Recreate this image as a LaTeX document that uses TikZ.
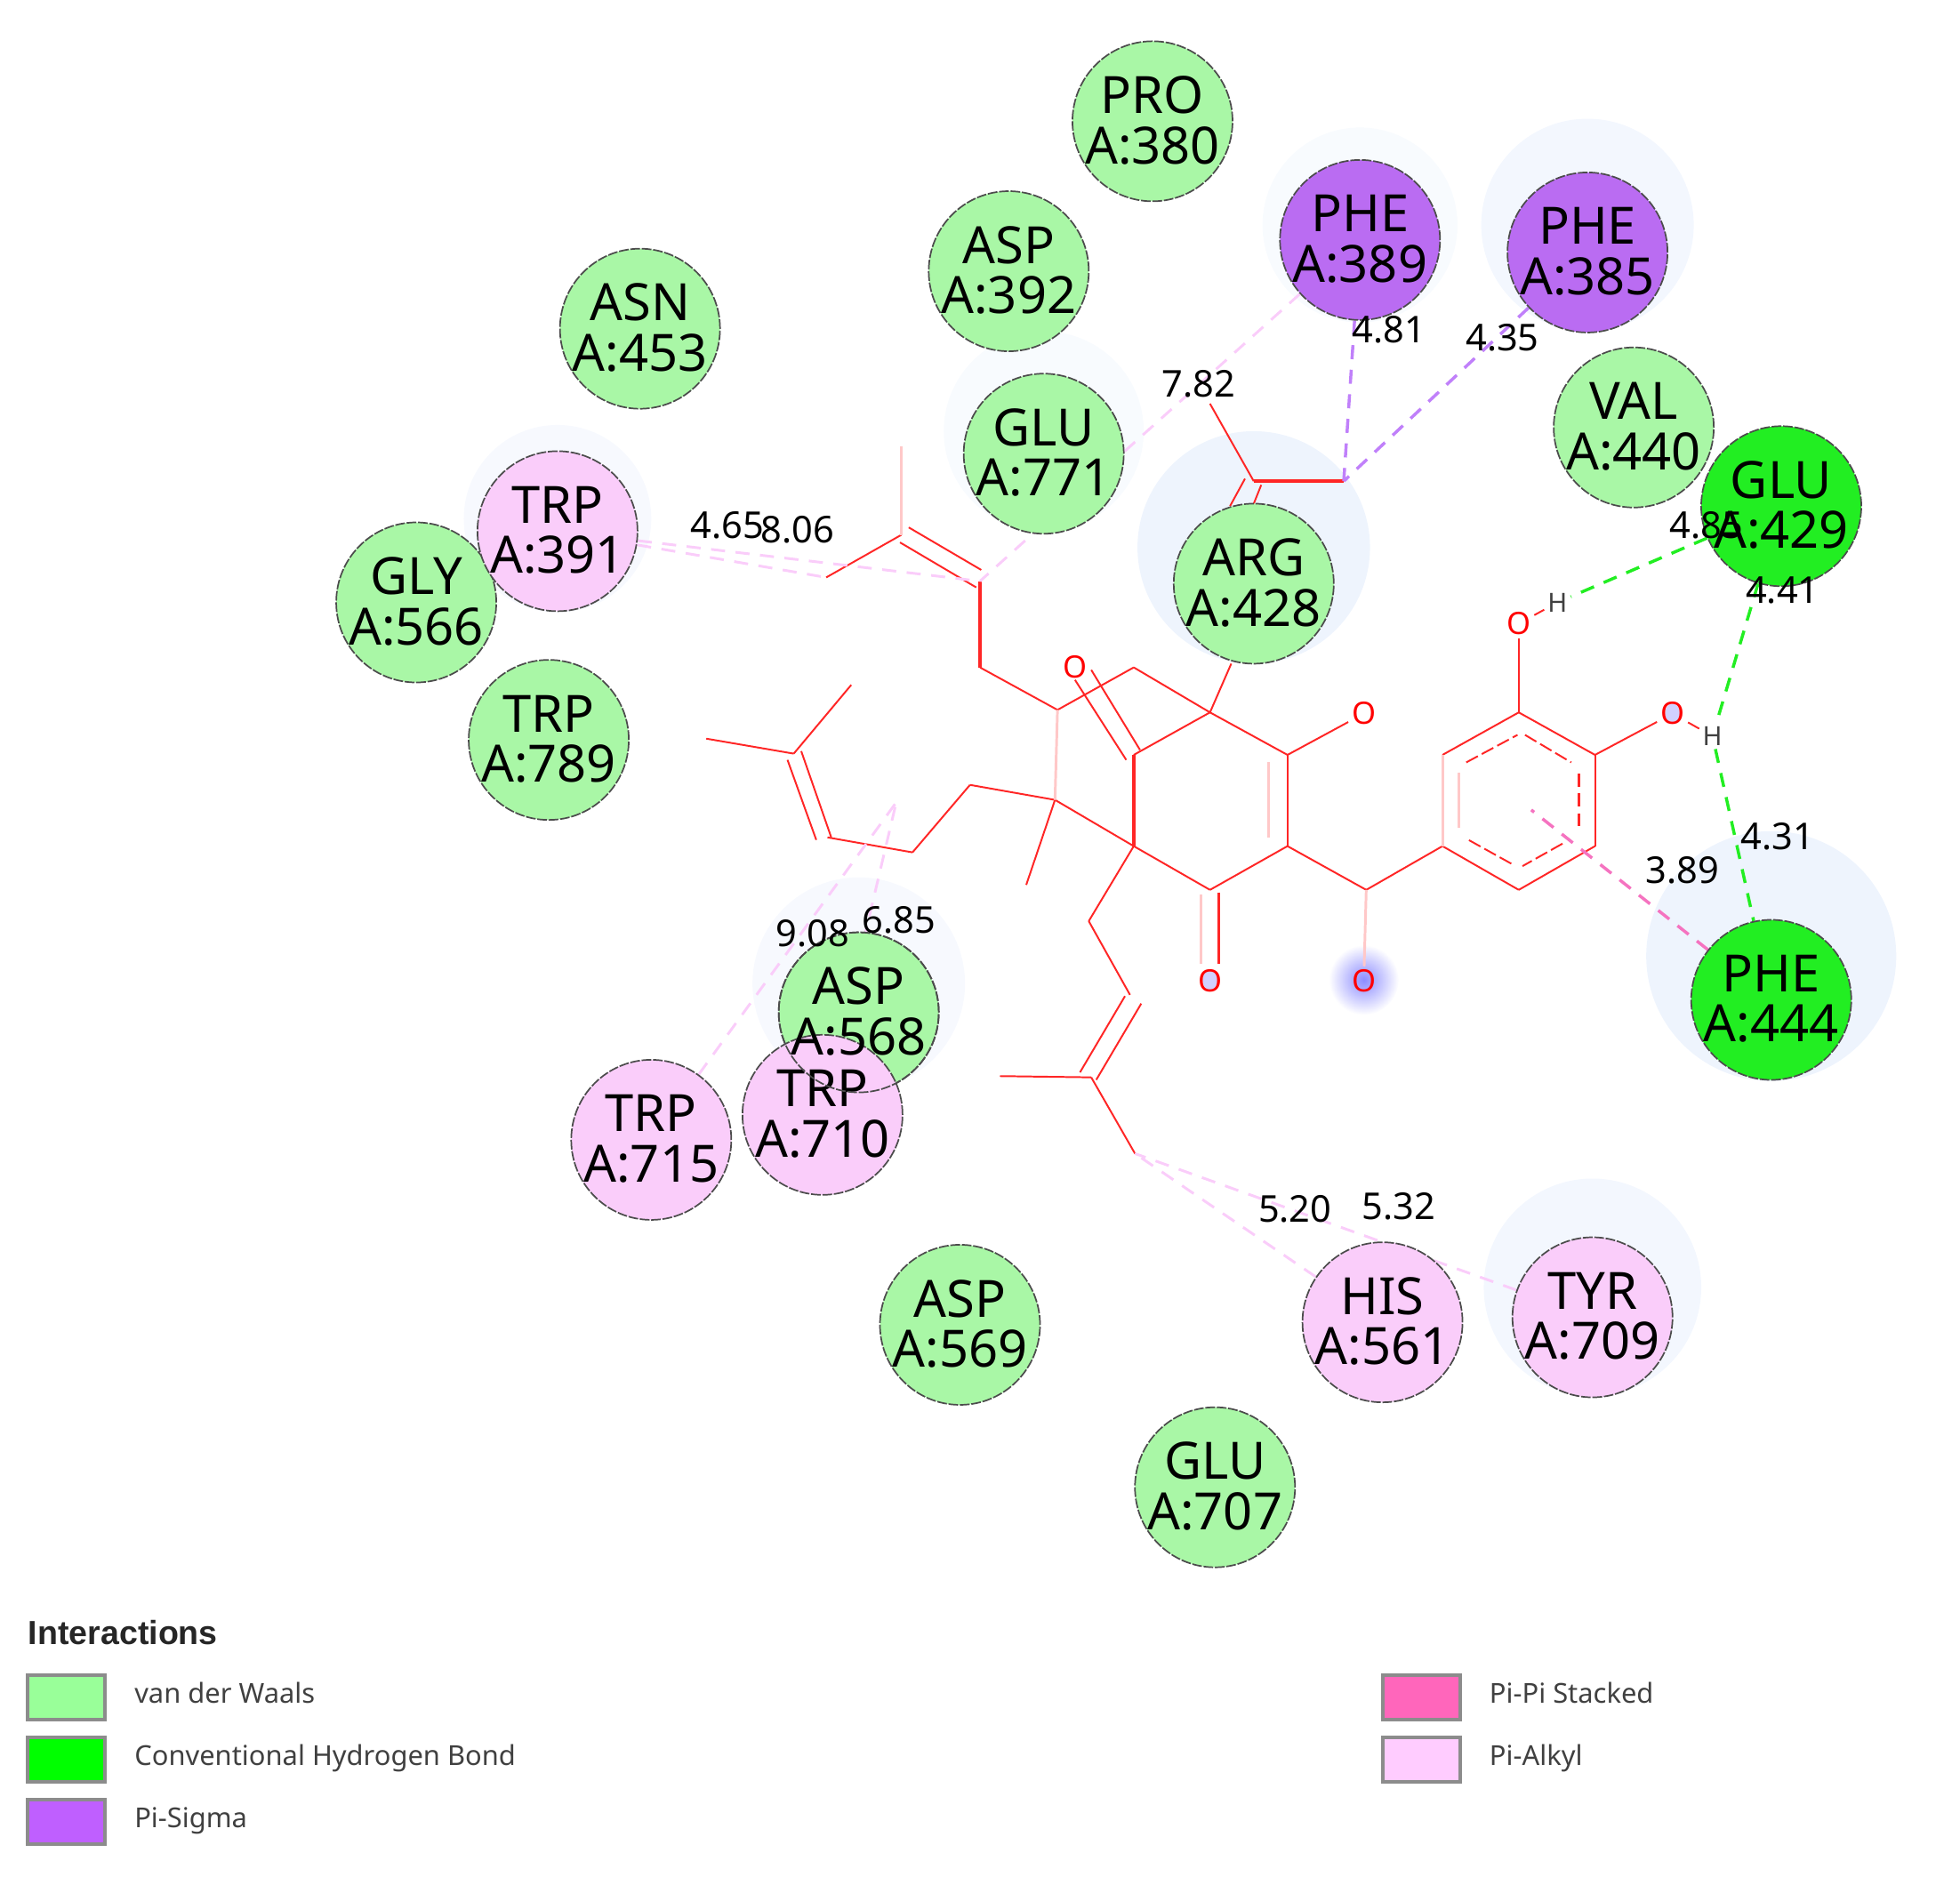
\documentclass[tikz,border=0pt]{standalone}
\usepackage{fontspec}
\setmainfont{Noto Sans}
\newfontfamily\legendbold{Liberation Sans}
\usetikzlibrary{positioning}
\pgfdeclarelayer{halo}
\pgfdeclarelayer{lines}
\pgfsetlayers{halo,lines,main}
\definecolor{haloblue}{HTML}{EEF4FD}
\definecolor{vdwgreen}{HTML}{A9F7A6}
\definecolor{hbgreen}{HTML}{22EE22}
\definecolor{sigmapurple}{HTML}{BA6CF2}
\definecolor{sigmaline}{HTML}{C080FA}
\definecolor{alkylpink}{HTML}{FACDFA}
\definecolor{faintred}{HTML}{FFC8C8}
\newcommand{\restext}[2]{\raisebox{0.6pt}{#1}\\\raisebox{0.6pt}{#2}}
\tikzset{
    resbase/.style={circle, minimum size=1.28cm, inner sep=-4pt, align=center, draw=black!70,
        line width=0.35pt, dash pattern=on 2.2pt off 0.4pt, text=black,
        font=\fontsize{11.7}{11.4}\selectfont},
    vdw/.style={resbase, fill=vdwgreen},
    hbond/.style={resbase, fill=hbgreen},
    sigma/.style={resbase, fill=sigmapurple},
    alkyl/.style={resbase, fill=alkylpink},
    bond/.style={red!85!white, line width=0.4pt},
    faintbond/.style={faintred, line width=0.6pt},
    hblink/.style={hbgreen, line width=0.7pt, dash pattern=on 3.2pt off 2.4pt},
    sigmalink/.style={sigmaline, line width=0.7pt, dash pattern=on 3.2pt off 2.4pt},
    stacklink/.style={magenta!55!white, line width=0.7pt, dash pattern=on 3.2pt off 2.4pt},
    alkyllink/.style={alkylpink, line width=0.6pt, dash pattern=on 3.2pt off 2.4pt},
    atomO/.style={inner sep=0.6pt, text=red, font=\fontsize{7}{7}\selectfont},
    atomH/.style={inner sep=0.6pt, text=black!75, font=\fontsize{6}{6}\selectfont},
    distlabel/.style={inner sep=0pt, text=black, font=\fontsize{8.4}{8.4}\selectfont},
    swatch/.style={draw=black!45, line width=0.8pt, minimum width=0.62cm, minimum height=0.355cm, inner sep=0pt},
    legendtext/.style={anchor=west, inner sep=0pt, text height=5pt, text depth=1.5pt, text=black!75, font=\fontsize{6.25}{7}\selectfont},
}

\begin{document}
\begin{tikzpicture}[x=0.01cm, y=-0.01cm]
    \useasboundingbox (0,0) rectangle (1568,1514);

    % halos
    \begin{pgfonlayer}{halo}
    \foreach \x/\y/\r/\p in
       {1088/180/78/40, 1270/180/85/70, 835/345/80/40, 1003/438/93/100,
        446/415/75/50, 687/787/85/50, 1417/765/100/100, 1274/1030/87/70}
    {
        \fill[haloblue!\p!white] (\x,\y) circle (\r);
    };
    \shade[inner color=blue!45!white, outer color=white, draw=none] (1091,784) circle (28);
    \fill[blue!18!white] (1338,571) ellipse (6 and 8);
    \fill[blue!18!white] (968,784) ellipse (6 and 8);
    \end{pgfonlayer}

    % residues
    \foreach \n/\x/\y/\s/\t/\u in
       {nPro380/922/97/vdw/PRO/380,
        nAsp392/807/217/vdw/ASP/392,
        nPhe389/1088/192/sigma/PHE/389,
        nPhe385/1270/202/sigma/PHE/385,
        nAsn453/512/263/vdw/ASN/453,
        nGlu771/835/363/vdw/GLU/771,
        nVal440/1307/342/vdw/VAL/440,
        nGlu429/1425/405/hbond/GLU/429,
        nArg428/1003/467/vdw/ARG/428,
        nGly566/333/482/vdw/GLY/566,
        nTrp391/446/425/alkyl/TRP/391,
        nTrp789/439/592/vdw/TRP/789,
        nTrp715/521/912/alkyl/TRP/715,
        nPhe444/1417/800/hbond/PHE/444,
        nHis561/1106/1058/alkyl/HIS/561,
        nTyr709/1274/1054/alkyl/TYR/709,
        nAsp569/768/1060/vdw/ASP/569,
        nGlu707/972/1190/vdw/GLU/707}
    {
        \node[\s] (\n) at (\x,\y) {\restext{\t}{A:\u}};
    };
    \node[vdw] (nAsp568) at (687,810) {};
    \node[alkyl] (nTrp710) at (658,892) {\restext{TRP}{A:710}};
    \node[vdw, fill=none] (nAsp568top) at (687,810) {\restext{ASP}{A:568}};

    % atoms of the ligand
    \foreach \n/\x/\y in
       {cR1/968/570, cR2/1030/604, cR3/1030/677, cR4/968/712, cR5/907/677, cR6/907/604,
        cB1/1154/677, cB2/1154/604, cB3/1215/570, cB4/1276/604, cB5/1276/677, cB6/1215/712,
        cKet/1093/712, cTop/907/534, cQ1/846/568, cQ2/844/640,
        cP1/784/534, cP2/784/465, cP3/721/428, cP4/721/357, cP5/661/462,
        cS1/776/628, cS2/730/682, cS3/662/670, cS4/635/603, cS5/565/591, cS6/681/548, cS7/821/708,
        cT1/871/737, cT2/904/796, cT3/873/862, cT4/800/861, cT5/908/923,
        cU1/1003/385, cU2/1075/385, cU3/968/323, cU4/985/531,
        cPiEnd/1225/648, cFarA/717/642}
    {
        \coordinate (\n) at (\x,\y);
    };
    \node[atomO] (nO1) at (860,534) {O};
    \node[atomO] (nO2) at (1091,571) {O};
    \node[atomO] (nO3) at (968,785) {O};
    \node[atomO] (nO4) at (1091,785) {O};
    \node[atomO] (nO5) at (1215,499) {O};
    \node[atomO] (nO6) at (1338,571) {O};
    \node[atomH] (nH1) at (1246,482) {H};
    \node[atomH] (nH2) at (1370,589) {H};

    % bonds
    \begin{pgfonlayer}{lines}
    \foreach \a/\b in
       {cR1/cR2, cR2/cR3, cR3/cR4, cR4/cR5, cR5/cR6, cR6/cR1, cR3/cKet, cKet/cB1,
        cB1/cB6, cB6/cB5, cB5/cB4, cB4/cB3, cB3/cB2, cR1/cTop, cTop/cQ1, cQ1/cP1, cP1/cP2,
        cP3/cP5, cQ2/cR5, cQ2/cS1, cS1/cS2, cS2/cS3, cS4/cS5, cS4/cS6, cQ2/cS7,
        cR5/cT1, cT1/cT2, cT3/cT4, cT3/cT5, cU1/cU2, cU1/cU3, cR1/cU4,
        cR2/nO2, cB3/nO5, cB4/nO6, nO5/nH1, nO6/nH2}
    {
        \draw[bond] (\a) -- (\b);
    };
    \foreach \a/\b in {cB1/cB2, cQ1/cQ2, cKet/nO4}
    {
        \draw[faintbond] (\a) -- (\b);
    };
    \draw[bond, line width=0.7pt] (cU1) -- (cU2);
    \draw[bond, line width=0.7pt] (cP1) -- (cP2);
    \draw[bond, line width=0.7pt] (cR5) -- (cR6);
    \draw[faintbond] (1015,610) -- (1015,670);
    \draw[faintbond] (961,716) -- (961,771);
    \draw[bond, line width=0.7pt] (975,714) -- (975,771);
    \draw[faintbond] (1167,618) -- (1167,662);
    % second lines of the double bonds
    \draw[bond] (860,544) -- (901,608);
    \draw[bond] (873,536) -- (912,600);
    \draw[bond] (720,434) -- (781,470);
    \draw[bond] (727,422) -- (785,456);
    \draw[faintbond] (cP3) -- (cP4);
    \draw[bond] (641,601) -- (665,670);
    \draw[bond] (630,608) -- (653,672);
    \draw[bond] (913,803) -- (877,864);
    \draw[bond] (900,797) -- (864,858);
    \draw[bond] (996,383) -- (984,405);
    \draw[bond] (1009,388) -- (1003,403);
    % inner ring
    \draw[bond, dash pattern=on 3pt off 1pt] (1173,610) -- (1214,588);
    \draw[bond, dash pattern=on 3pt off 1pt] (1220,588) -- (1257,610);
    \draw[bond, line width=0.7pt, dash pattern=on 3pt off 1.5pt] (1263,619) -- (1263,662);
    \draw[bond, dash pattern=on 3pt off 1pt] (1250,675) -- (1218,693);
    \draw[bond, dash pattern=on 3pt off 1pt] (1209,691) -- (1173,671);

    % interactions
    \foreach \a/\b/\s in
       {nTrp391/cP2/alkyllink, nTrp391/cP5/alkyllink, nPhe389/cP2/alkyllink,
        nTrp715/cFarA/alkyllink, nTrp710/cFarA/alkyllink,
        nHis561/cT5/alkyllink, nTyr709/cT5/alkyllink,
        nPhe389/cU2/sigmalink, nPhe385/cU2/sigmalink,
        nPhe444/cPiEnd/stacklink,
        nGlu429/nH1/hblink, nGlu429/nH2/hblink, nH2/nPhe444/hblink}
    {
        \draw[\s] (\a) -- (\b);
    };
    \end{pgfonlayer}

    % distances
    \foreach \n/\x/\y/\t in
       {nD1/582/420/4.65, nD2/638/424/8.06, nD3/959/307/7.82, nD4/1111/264/4.81,
        nD5/1202/270/4.35, nD6/1365/420/4.85, nD7/1426/472/4.41, nD8/1422/669/4.31,
        nD9/1346/696/3.89, nD10/650/747/9.08, nD11/719/736/6.85, nD12/1036/967/5.20,
        nD13/1119/965/5.32}
    {
        \node[distlabel] (\n) at (\x,\y) {\t};
    };

    % legend
    \node[anchor=west, inner sep=0pt, text=black!85, font=\fontsize{7.6}{8}\legendbold\bfseries] (nLegend) at (22,1306) {Interactions};
    \foreach \n/\x/\y/\c/\t in
       {nVdw/53/1358/99FF99/van der Waals,
        nHb/53/1408/00FF00/Conventional Hydrogen Bond,
        nSig/53/1458/BF5FFF/Pi-Sigma,
        nStack/1137/1358/FF66BB/Pi-Pi Stacked,
        nAlk/1137/1408/FFCCFF/Pi-Alkyl}
    {
        \definecolor{swatchfill}{HTML}{\c}
        \node[swatch, fill=swatchfill] (\n) at (\x,\y) {};
        \node[legendtext] (\n Text) at ([xshift=0.215cm, yshift=0.017cm]\n.east) {\t};
    };
\end{tikzpicture}
\end{document}
